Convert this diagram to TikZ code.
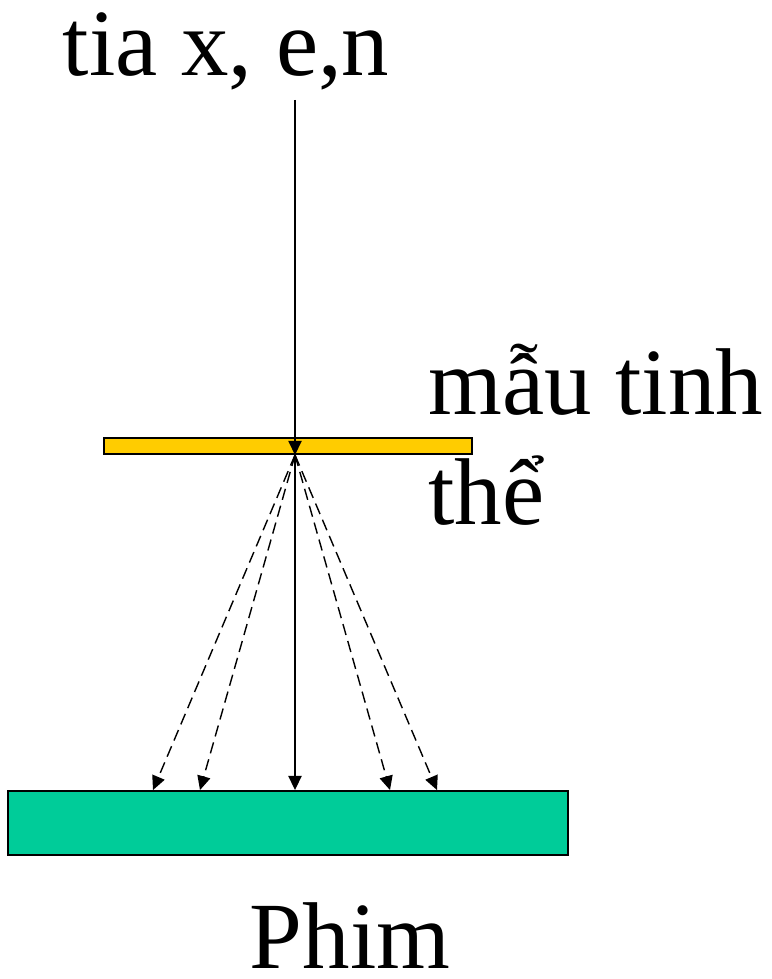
\documentclass[tikz,border=0pt]{standalone}
\usepackage{fontspec}
\setmainfont{Liberation Serif}
\usetikzlibrary{arrows.meta,calc}
\definecolor{samplecol}{HTML}{FFCC00}
\definecolor{filmcol}{HTML}{00CC99}
\begin{document}
\begin{tikzpicture}[x=0.02cm, y=-0.02cm,
    plate/.style={rectangle, draw, line width=1.1pt, inner sep=0pt},
    ray/.style={line width=0.8pt, -{Triangle[length=8pt,width=7.5pt]}},
    scat/.style={ray, dash pattern=on 6.5pt off 3.5pt},
    lbl/.style={inner sep=0pt, font=\fontsize{54}{60}\selectfont} ]
    % --- Sample and film ---
    \node[plate, fill=samplecol, minimum width=7.36cm, minimum height=0.32cm] (sample) at (288, 446) {};
    \node[plate, fill=filmcol, minimum width=11.2cm, minimum height=1.28cm] (film) at (288, 823) {};

    \coordinate (src) at (295, 100);
    \coordinate (hit) at (295, 455);

    % --- Beams ---
    \draw[ray] (src) -- (hit);
    \draw[ray] (hit) -- (hit |- film.north);
    \foreach \dx in {-142, -95, 95, 142}
        \draw[scat] (hit) -- ($(hit |- film.north) + (\dx, 0)$);

    % --- Labels ---
    \node[lbl, anchor=base] (beam) at (226, 76) {tia x, e,n};
    \node[lbl, anchor=base west] (name1) at (428, 414) {mẫu tinh};
    \node[lbl, anchor=base west] (name2) at (428, 524) {thể};
    \node[lbl, anchor=base] (filmname) at (350, 968) {Phim};

    \useasboundingbox (0, 0) rectangle (771, 979);
\end{tikzpicture}
\end{document}
